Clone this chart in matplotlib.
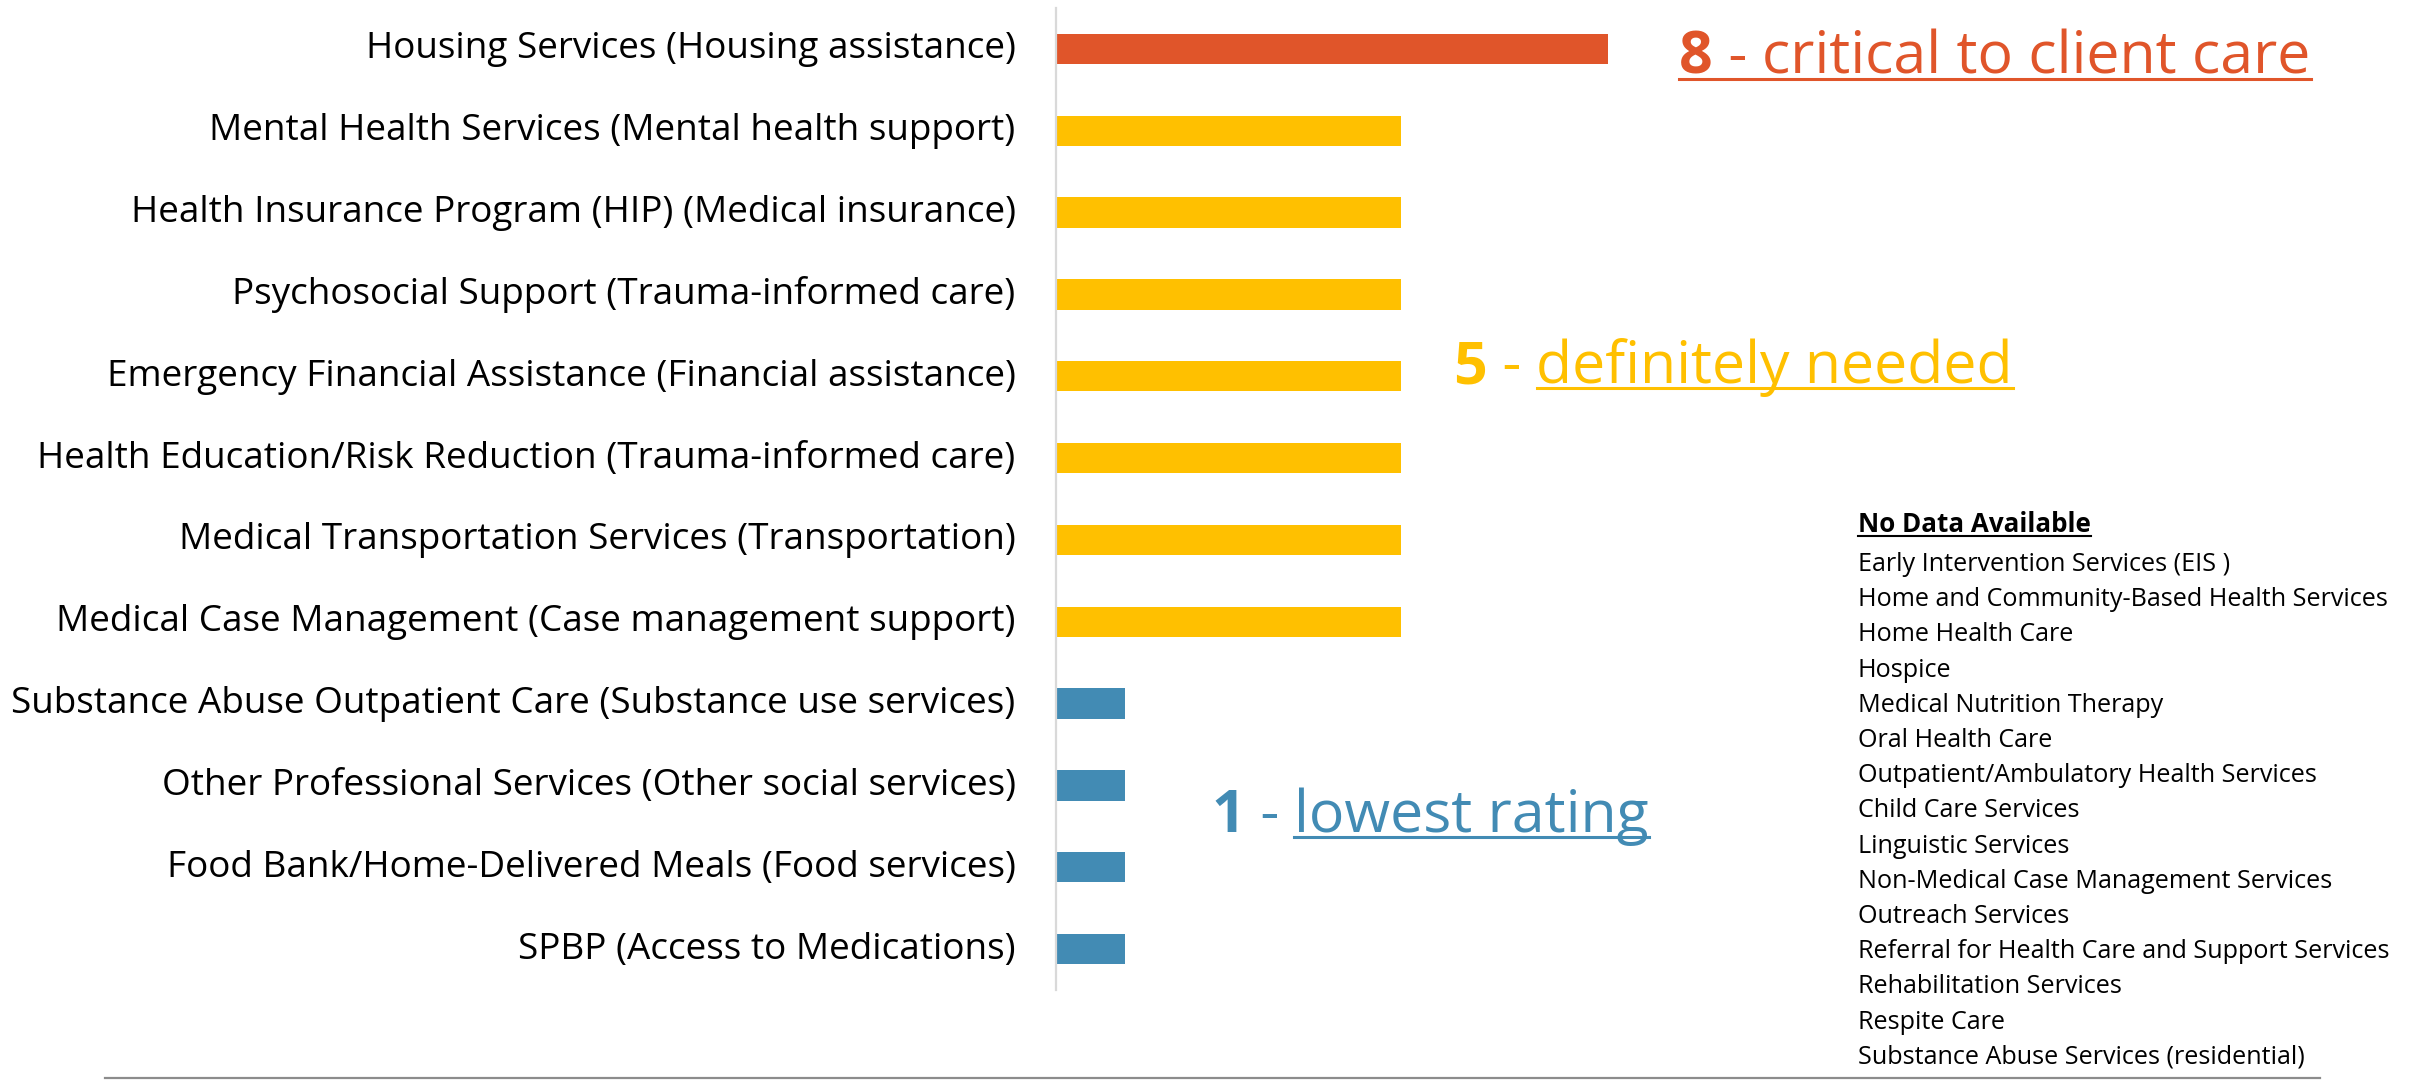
import matplotlib
matplotlib.use("Agg")
import matplotlib.pyplot as plt
import matplotlib.transforms as mtransforms
from matplotlib.lines import Line2D

# ---------------- data ----------------
services = [
    "Housing Services (Housing assistance)",
    "Mental Health Services (Mental health support)",
    "Health Insurance Program (HIP) (Medical insurance)",
    "Psychosocial Support (Trauma-informed care)",
    "Emergency Financial Assistance (Financial assistance)",
    "Health Education/Risk Reduction (Trauma-informed care)",
    "Medical Transportation Services (Transportation)",
    "Medical Case Management (Case management support)",
    "Substance Abuse Outpatient Care (Substance use services)",
    "Other Professional Services (Other social services)",
    "Food Bank/Home-Delivered Meals (Food services)",
    "SPBP (Access to Medications)",
]
ratings = [8, 5, 5, 5, 5, 5, 5, 5, 1, 1, 1, 1]

no_data_title = "No Data Available"
no_data_services = [
    "Early Intervention Services (EIS )",
    "Home and Community-Based Health Services",
    "Home Health Care",
    "Hospice",
    "Medical Nutrition Therapy",
    "Oral Health Care",
    "Outpatient/Ambulatory Health Services",
    "Child Care Services",
    "Linguistic Services",
    "Non-Medical Case Management Services",
    "Outreach Services",
    "Referral for Health Care and Support Services",
    "Rehabilitation Services",
    "Respite Care",
    "Substance Abuse Services (residential)",
]

rating_colors = {8: "#E0552A", 5: "#FFC000", 1: "#428BB4"}
rating_labels = {8: ("8", " - ", "critical to client care"),
                 5: ("5", " - ", "definitely needed"),
                 1: ("1", " - ", "lowest rating")}

FONT = "Open Sans"
plt.rcParams["font.family"] = [FONT, "DejaVu Sans"]

W, H = 2420, 1081
DPI = 100
fig = plt.figure(figsize=(W / DPI, H / DPI), dpi=DPI)

def fx(px):
    return px / W

def fy(py):  # py measured from top
    return 1 - py / H

ax_left, ax_right = 1056, 1056 + 690
ax_top, ax_bot = 8, 990
ax = fig.add_axes([fx(ax_left), fy(ax_bot), fx(ax_right - ax_left), (ax_bot - ax_top) / H])

ypos = list(range(len(services)))
ax.barh(ypos, ratings, height=0.37, color=[rating_colors[r] for r in ratings])
ax.set_ylim(len(services) - 0.5, -0.5)
ax.set_xlim(0, 10)
ax.set_yticks(ypos)
ax.set_yticklabels(services, fontsize=26.6, color="black")
ax.tick_params(axis="y", length=0, pad=29)
shift = mtransforms.ScaledTranslation(0, 4 / DPI, fig.dpi_scale_trans)
for lbl in ax.get_yticklabels():
    lbl.set_va("center_baseline")
    lbl.set_transform(lbl.get_transform() + shift)
ax.set_xticks([])
for s in ["top", "right", "bottom"]:
    ax.spines[s].set_visible(False)
ax.spines["left"].set_color("#D9D9D9")
ax.spines["left"].set_linewidth(1.6)

# ------------- rating annotations -------------
ann_pos = {8: (1679, 74, True), 5: (1453, 383, False), 1: (1211, 832, False)}
ANN_SIZE = 42.5
fig.canvas.draw()
renderer = fig.canvas.get_renderer()
for r, (x0, base, underline_all) in ann_pos.items():
    num, dash, word = rating_labels[r]
    c = rating_colors[r]
    t1 = fig.text(fx(x0), fy(base), num, fontsize=ANN_SIZE, fontweight="bold",
                  color=c, va="baseline", ha="left")
    t2 = ax.annotate(dash, xy=(1, 0), xycoords=t1, va="bottom", ha="left",
                     fontsize=ANN_SIZE, color=c, annotation_clip=False)
    t3 = ax.annotate(word, xy=(1, 0), xycoords=t2, va="bottom", ha="left",
                     fontsize=ANN_SIZE, color=c, annotation_clip=False)
    fig.canvas.draw()
    b1 = t1.get_window_extent(renderer)
    b3 = t3.get_window_extent(renderer)
    start = b1.x0 if underline_all else b3.x0
    uy = (H - base - 5) / H
    fig.add_artist(Line2D([start / W, b3.x1 / W], [uy, uy],
                          transform=fig.transFigure, color=c, lw=2.2))

# ------------- no data list -------------
list_x = 1858
title_base = 532
tt = fig.text(fx(list_x), fy(title_base), no_data_title, fontsize=18.7,
              fontweight="bold", color="black", va="baseline", ha="left")
item_base0 = 571
step = 35.2
for i, name in enumerate(no_data_services):
    fig.text(fx(list_x), fy(item_base0 + i * step), name, fontsize=18.1,
             color="black", va="baseline", ha="left")
fig.canvas.draw()
bt = tt.get_window_extent(renderer)
uy = (H - title_base - 4) / H
fig.add_artist(Line2D([bt.x0 / W, bt.x1 / W], [uy, uy], transform=fig.transFigure,
                      color="black", lw=1.5))

# bottom rule
fig.add_artist(Line2D([fx(105), fx(2320)], [fy(1078), fy(1078)],
                      transform=fig.transFigure, color="#8C8C8C", lw=1.6))

fig.savefig("out.png", dpi=DPI)
